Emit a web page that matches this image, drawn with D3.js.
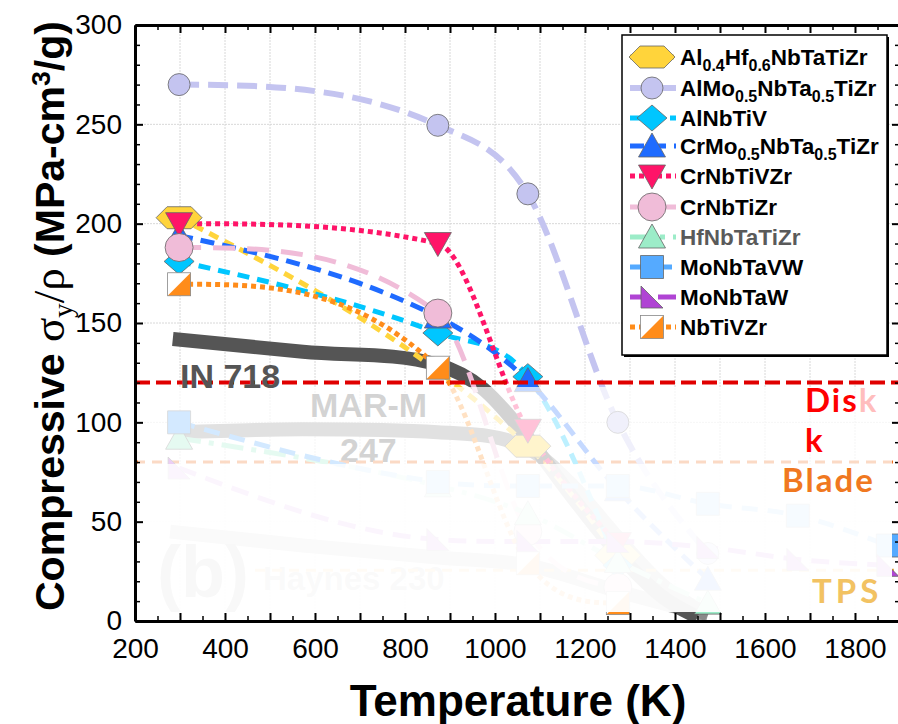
<!DOCTYPE html>
<html>
<head>
<meta charset="utf-8">
<script src="https://cdn.jsdelivr.net/npm/d3@7"></script>
<style>
  body { margin: 0; background: #fff; }
  svg { display: block; font-family: "Liberation Sans", Arial, sans-serif; }
</style>
</head>
<body>
<svg id="chart" width="898" height="724"></svg>
<script>
// [temperature K, specific yield strength MPa cm3/g]
const AlHfNbTaTiZr = [[298, 203], [1073, 88], [1273, 33]];
const AlMoNbTaTiZr = [[298, 270], [873, 249.5], [1073, 215], [1273, 100], [1473, 34]];
const AlNbTiV = [[298, 181], [873, 145], [1073, 123], [1273, 28]];
const CrMoNbTaTiZr = [[298, 194], [873, 153], [1073, 121], [1273, 66], [1473, 21]];
const CrNbTiVZr = [[298, 200], [873, 190], [1073, 96], [1273, 39]];
const CrNbTiZr = [[298, 188], [873, 155], [1073, 45], [1273, 17]];
const HfNbTaTiZr = [[298, 92], [873, 68], [1073, 54], [1273, 30], [1473, 9]];
const MoNbTaVW = [[298, 100], [873, 70], [1073, 68], [1273, 68], [1473, 59], [1673, 53], [1873, 38]];
const MoNbTaW = [[298, 77], [873, 41], [1073, 40], [1273, 40], [1473, 37], [1673, 31], [1873, 28]];
const NbTiVZr = [[298, 169.5], [873, 127.5], [1073, 29], [1273, 9]];

// superalloy reference bands
const IN718 = [[284, 142], [573, 135.5], [873, 129], [973, 117], [1073, 92], [1173, 62], [1273, 34], [1373, 12], [1450, 2]];
const MARM247 = [[298, 95], [573, 96.5], [873, 95], [1073, 87], [1173, 68], [1273, 42], [1373, 18], [1473, 3]];
const Haynes230 = [[278, 45], [573, 38], [873, 32], [1073, 28], [1273, 15], [1473, 3]];

// design limits
const diskLimit = 120;
const bladeLimit = 80;
const tpsLimit = 25.5;

const xLabels = [200, 400, 600, 800, 1000, 1200, 1400, 1600, 1800];
const yLabels = [0, 50, 100, 150, 200, 250, 300];

// legend text, [text, isSubscript]
const legendLabels = [
  [["Al"], ["0.4", 1], ["Hf"], ["0.6", 1], ["NbTaTiZr"]],
  [["AlMo"], ["0.5", 1], ["NbTa"], ["0.5", 1], ["TiZr"]],
  [["AlNbTiV"]],
  [["CrMo"], ["0.5", 1], ["NbTa"], ["0.5", 1], ["TiZr"]],
  [["CrNbTiVZr"]],
  [["CrNbTiZr"]],
  [["HfNbTaTiZr"]],
  [["MoNbTaVW"]],
  [["MoNbTaW"]],
  [["NbTiVZr"]]
];

const series = [
  { data: AlHfNbTaTiZr, color: "#ffd43b", dash: "10,7", width: 5, sym: "hex" },
  { data: AlMoNbTaTiZr, color: "#c4c4f0", dash: "20,9", width: 6, sym: "circleS" },
  { data: AlNbTiV, color: "#00c6ff", dash: "12,8", width: 5, sym: "diamond" },
  { data: CrMoNbTaTiZr, color: "#1f6bff", dash: "14,8", width: 5, sym: "triUp" },
  { data: CrNbTiVZr, color: "#ff1468", dash: "5,4", width: 5, sym: "triDown" },
  { data: CrNbTiZr, color: "#f0bcd8", dash: "22,12", width: 5, sym: "circleL" },
  { data: HfNbTaTiZr, color: "#9cecc8", dash: "22,8,5,8", width: 5, sym: "triUp" },
  { data: MoNbTaVW, color: "#55aaff", dash: "16,10", width: 5, sym: "square" },
  { data: MoNbTaW, color: "#b044d4", dash: "18,10", width: 5, sym: "rightTri" },
  { data: NbTiVZr, color: "#ff8c1a", dash: "5,4", width: 5, sym: "split" }
];

const symbolPath = {
  hex: "M-23,0L-12,-11L12,-11L23,0L12,11L-12,11Z",
  circleS: "M11,0A11,11 0 1,1 -11,0A11,11 0 1,1 11,0Z",
  diamond: "M0,-13L15,0L0,13L-15,0Z",
  triUp: "M0,-13L13.5,11L-13.5,11Z",
  triDown: "M-13.5,-11L13.5,-11L0,13Z",
  circleL: "M14,0A14,14 0 1,1 -14,0A14,14 0 1,1 14,0Z",
  square: "M-11.5,-11.5H11.5V11.5H-11.5Z",
  rightTri: "M-11,-11L11,11L-11,11Z"
};

const svg = d3.select("#chart");
const x = d3.scaleLinear().domain([200, 1900]).range([135, 900]);
const y = d3.scaleLinear().domain([0, 300]).range([621, 25]);

svg.append("defs").append("clipPath").attr("id", "plotClip")
  .append("rect").attr("x", 135).attr("y", 25).attr("width", 765).attr("height", 596);

// smooth curve through the points, slopes = mean of neighbouring secants (limited, like Origin's spline look)
function splinePath(data) {
  const p = data.map(d => [x(d[0]), y(d[1])]);
  const n = p.length;
  const sec = d3.range(n - 1).map(i => (p[i + 1][1] - p[i][1]) / (p[i + 1][0] - p[i][0]));
  const m = new Array(n).fill(0);
  for (let i = 1; i < n - 1; i++) {
    if (sec[i - 1] * sec[i] > 0) {
      const lim = 3 * Math.min(Math.abs(sec[i - 1]), Math.abs(sec[i]));
      const v = (sec[i - 1] + sec[i]) / 2;
      m[i] = Math.sign(v) * Math.min(Math.abs(v), lim);
    }
  }
  if (n === 2) { m[0] = m[1] = sec[0]; }
  else {
    const ends = [[0, 1, sec[0]], [n - 1, n - 2, sec[n - 2]]];
    ends.forEach(([i, j, s]) => {
      let v = (3 * s - m[j]) / 2;
      if (v * s < 0) v = 0;
      m[i] = v;
    });
  }
  const path = d3.path();
  path.moveTo(p[0][0], p[0][1]);
  for (let i = 0; i < n - 1; i++) {
    const h = (p[i + 1][0] - p[i][0]) / 3;
    path.bezierCurveTo(p[i][0] + h, p[i][1] + m[i] * h, p[i + 1][0] - h, p[i + 1][1] - m[i + 1] * h, p[i + 1][0], p[i + 1][1]);
  }
  return path.toString();
}

function drawMarker(g, sym, color) {
  if (sym === "split") {
    g.append("rect").attr("x", -11.5).attr("y", -11.5).attr("width", 23).attr("height", 23).attr("fill", "#fff");
    g.append("path").attr("d", "M11.5,-11.5L11.5,11.5L-11.5,11.5Z").attr("fill", color);
    g.append("rect").attr("x", -11.5).attr("y", -11.5).attr("width", 23).attr("height", 23)
      .attr("fill", "none").attr("stroke", "#888").attr("stroke-width", 0.8);
  } else {
    g.append("path").attr("d", symbolPath[sym]).attr("fill", color)
      .attr("stroke", "#666").attr("stroke-width", 0.8);
  }
}

// grid
const grid = svg.append("g").attr("stroke", "#d8d8d8").attr("stroke-width", 1).attr("stroke-dasharray", "2,1");
grid.selectAll(".gx").data(d3.range(300, 1900, 100)).join("line").attr("class", "gx")
  .attr("x1", d => x(d)).attr("x2", d => x(d)).attr("y1", 25).attr("y2", 621);
grid.selectAll(".gy").data(d3.range(50, 300, 50)).join("line").attr("class", "gy")
  .attr("x1", 135).attr("x2", 900).attr("y1", d => y(d)).attr("y2", d => y(d));

const plot = svg.append("g").attr("clip-path", "url(#plotClip)");

// superalloy bands
plot.append("path").attr("d", splinePath(Haynes230)).attr("fill", "none").attr("stroke", "#999").attr("stroke-width", 14);
plot.append("path").attr("d", splinePath(MARM247)).attr("fill", "none").attr("stroke", "#8a8a8a").attr("stroke-width", 14);
plot.append("path").attr("d", splinePath(IN718)).attr("fill", "none").attr("stroke", "#555").attr("stroke-width", 14);

// faded labels (under the veil)
plot.append("text").attr("x", 310).attr("y", 417).attr("font-size", 34).attr("font-weight", "bold").attr("fill", "#555").text("MAR-M");
plot.append("text").attr("x", 340).attr("y", 462).attr("font-size", 34).attr("font-weight", "bold").attr("fill", "#555").text("247");
plot.append("text").attr("x", 157).attr("y", 597).attr("font-size", 72).attr("font-weight", "bold").attr("fill", "#777").text("(b)");
plot.append("text").attr("x", 263).attr("y", 590).attr("font-size", 33).attr("font-weight", "bold").attr("fill", "#999").text("Haynes 230");

// limit lines
plot.append("line").attr("x1", 255).attr("x2", 900).attr("y1", y(tpsLimit)).attr("y2", y(tpsLimit))
  .attr("stroke", "#f0b040").attr("stroke-width", 3).attr("stroke-dasharray", "10,7");
plot.append("line").attr("x1", 135).attr("x2", 900).attr("y1", y(bladeLimit)).attr("y2", y(bladeLimit))
  .attr("stroke", "#f07020").attr("stroke-width", 3).attr("stroke-dasharray", "10,7");

// alloy curves
series.forEach(s => {
  plot.append("path").attr("d", splinePath(s.data)).attr("fill", "none")
    .attr("stroke", s.color).attr("stroke-width", s.width).attr("stroke-dasharray", s.dash);
});
series.forEach(s => {
  s.data.forEach(d => {
    const g = plot.append("g").attr("transform", `translate(${x(d[0])},${y(d[1])})`);
    drawMarker(g, s.sym, s.color);
  });
});

// disk line
plot.append("line").attr("x1", 135).attr("x2", 900).attr("y1", y(diskLimit)).attr("y2", y(diskLimit))
  .attr("stroke", "#e00000").attr("stroke-width", 4).attr("stroke-dasharray", "15,6");

function callText(parent, tx, ty, str, color, ls) {
  return parent.append("text").attr("x", tx).attr("y", ty).attr("fill", color).attr("letter-spacing", ls)
    .attr("font-family", "Lato, sans-serif").attr("font-weight", "bold").attr("font-size", 33).text(str);
}

// the old "k" of Disk, left behind under the veil
const probe = callText(svg, 805, 412, "Dis", "#fff", 2);
const disWidth = probe.node().getComputedTextLength();
probe.remove();
callText(plot, 805 + disWidth, 412, "k", "#ff0000", 2);

// white veils over the lower part
svg.append("rect").attr("x", 138).attr("y", 387).attr("width", 754).attr("height", 77).attr("fill", "#fff").attr("opacity", 0.74);
svg.append("rect").attr("x", 138).attr("y", 464).attr("width", 754).attr("height", 148).attr("fill", "#fff").attr("opacity", 0.95);

// labels on top
svg.append("text").attr("x", 180).attr("y", 388).attr("font-size", 34).attr("font-weight", "bold").attr("fill", "#555").text("IN 718");
callText(svg, 805, 412, "Dis", "#ff0000", 2);
callText(svg, 805, 452, "k", "#ff0000", 2);
callText(svg, 782, 492, "Blade", "#f07820", 2);
callText(svg, 812, 603, "TPS", "#f2c262", 4);

// legend
const lg = svg.append("g");
lg.append("rect").attr("x", 624).attr("y", 37).attr("width", 265).attr("height", 320).attr("fill", "#000");
lg.append("rect").attr("x", 622).attr("y", 35).attr("width", 265).attr("height", 320)
  .attr("fill", "#fff").attr("stroke", "#000").attr("stroke-width", 1.5);
const rowY = [57, 88, 118, 146, 176, 207, 237, 267, 297, 327];
series.forEach((s, i) => {
  const ry = rowY[i];
  lg.append("line").attr("x1", 630).attr("x2", 676).attr("y1", ry).attr("y2", ry)
    .attr("stroke", s.color).attr("stroke-width", s.width).attr("stroke-dasharray", s.dash);
  drawMarker(lg.append("g").attr("transform", `translate(652,${ry})`), s.sym, s.color);
  const t = lg.append("text").attr("x", 680).attr("y", ry + 8).attr("font-size", 22.5).attr("font-weight", "bold")
    .attr("fill", i === 6 ? "#5a5a5a" : "#000");
  let low = false;
  legendLabels[i].forEach(([str, sub]) => {
    const sp = t.append("tspan").text(str).attr("font-size", sub ? 16 : 22.5);
    if (sub && !low) { sp.attr("dy", 6); low = true; }
    else if (!sub && low) { sp.attr("dy", -6); low = false; }
  });
});

// axes
function styleAxis(g, majorStep) {
  g.select(".domain").attr("stroke-width", 3);
  g.selectAll(".tick line").attr("stroke-width", 1.5);
  g.selectAll(".tick").filter(d => d % majorStep === 0).select("line").attr("stroke-width", 2);
  g.selectAll("text").attr("font-size", 28).attr("font-family", "Liberation Sans, Arial, sans-serif").attr("fill", "#000");
}
const xt = d3.range(200, 1901, 50);
const yt = d3.range(0, 301, 10);

const gb = svg.append("g").attr("transform", "translate(0,621)")
  .call(d3.axisBottom(x).tickValues(xt).tickSizeOuter(0).tickSizeInner(-5).tickPadding(17)
    .tickFormat(d => xLabels.includes(d) ? d : ""));
gb.selectAll(".tick").filter(d => d % 100 === 0).select("line").attr("y2", -8);
styleAxis(gb, 100);

const gt = svg.append("g").attr("transform", "translate(0,25)")
  .call(d3.axisTop(x).tickValues(xt).tickSizeOuter(0).tickSizeInner(-5).tickFormat(""));
gt.selectAll(".tick").filter(d => d % 100 === 0).select("line").attr("y2", 8);
styleAxis(gt, 100);

const gl = svg.append("g").attr("transform", "translate(135,0)")
  .call(d3.axisLeft(y).tickValues(yt).tickSizeOuter(0).tickSizeInner(-5).tickPadding(13)
    .tickFormat(d => yLabels.includes(d) ? d : ""));
gl.selectAll(".tick").filter(d => d % 50 === 0).select("line").attr("x2", 8);
styleAxis(gl, 50);

const gr = svg.append("g").attr("transform", "translate(900,0)")
  .call(d3.axisRight(y).tickValues(yt).tickSizeOuter(0).tickSizeInner(-5).tickFormat(""));
gr.selectAll(".tick").filter(d => d % 50 === 0).select("line").attr("x2", -8);
styleAxis(gr, 50);

// axis titles
svg.append("text").attr("x", 518).attr("y", 716).attr("text-anchor", "middle")
  .attr("font-size", 44).attr("font-weight", "bold").text("Temperature (K)");

const yTitle = svg.append("text").attr("transform", "translate(64,316) rotate(-90)")
  .attr("text-anchor", "middle").attr("font-size", 40).attr("font-weight", "bold")
  .attr("textLength", 590).attr("lengthAdjust", "spacingAndGlyphs");
yTitle.append("tspan").text("Compressive ");
yTitle.append("tspan").attr("font-family", "Liberation Serif, serif").attr("font-weight", "normal").attr("font-size", 44).text("σ");
yTitle.append("tspan").attr("font-family", "Liberation Serif, serif").attr("font-weight", "normal").attr("font-size", 28).attr("dy", 8).text("y");
yTitle.append("tspan").attr("font-family", "Liberation Serif, serif").attr("font-weight", "normal").attr("font-size", 44).attr("dy", -8).text("/ρ");
yTitle.append("tspan").text(" (MPa-cm");
yTitle.append("tspan").attr("font-size", 26).attr("dy", -14).text("3");
yTitle.append("tspan").attr("dy", 14).text("/g)");
</script>
</body>
</html>
